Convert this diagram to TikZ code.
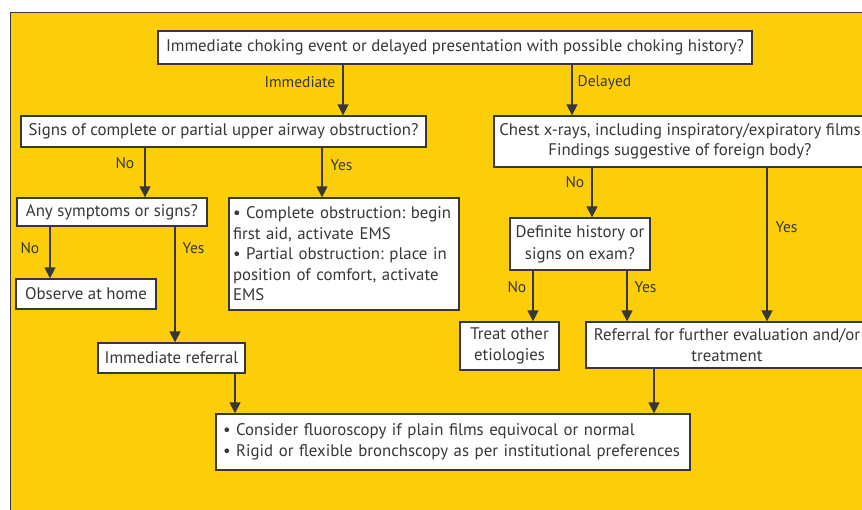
\documentclass[tikz,border=0pt]{standalone}
\usepackage{fontspec}
\setmainfont{PT Sans}
\frenchspacing
\usetikzlibrary{arrows.meta}
\definecolor{fondo}{RGB}{252,206,10}
\definecolor{tinta}{RGB}{55,55,55}

\begin{document}
\begin{tikzpicture}[x=1pt,y=-1pt,
  caja/.style={draw=tinta, fill=white, line width=1.3pt, text=tinta, inner sep=0pt,
    font=\fontsize{16.8}{20.5}\selectfont},
  flecha/.style={draw=tinta, line width=1.4pt, -{Triangle[length=11pt,width=11pt]}},
  etiq/.style={text=tinta, inner sep=0pt, font=\fontsize{15.5}{17}\selectfont}]
% Fondo
\clip (0,0) rectangle (862,509);
\fill[fondo] (10,12) rectangle (870,515);
\draw[tinta, line width=1pt] (10,515) -- (10,12) -- (870,12);

% Pregunta inicial
\node[caja, minimum width=594, minimum height=33] (evento) at (455,47.5)
  {Immediate choking event or delayed presentation with possible choking history?};

% Rama inmediata
\node[caja, minimum width=405, minimum height=31] (signos) at (223.5,131.5)
  {Signs of complete or partial upper airway obstruction?};
\node[caja, minimum width=190, minimum height=28] (sintomas) at (112,212)
  {Any symptoms or signs?};
\node[caja, minimum width=230, minimum height=112, text width=222, align=left] (obstruccion) at (344,254)
  {• Complete obstruction: begin\\first aid, activate EMS\\• Partial obstruction: place in\\position of comfort, activate\\EMS};
\node[caja, minimum width=140, minimum height=30] (casa) at (86,294) {Observe at home};
\node[caja, minimum width=147, minimum height=30] (inmediata) at (171.5,358) {Immediate referral};

% Rama tardia
\node[caja, minimum width=372, minimum height=51, align=center] (rx) at (680,141.5)
  {Chest x-rays, including inspiratory/expiratory films\\Findings suggestive of foreign body?};
\node[caja, minimum width=140, minimum height=52, align=center, font=\fontsize{16.8}{22}\selectfont] (historia) at (580,244)
  {Definite history or\\signs on exam?};
\node[caja, minimum width=99, minimum height=48, align=center] (otras) at (509.5,346)
  {Treat other\\etiologies};
\node[caja, minimum width=282, minimum height=46, align=center] (referir) at (727,345)
  {Referral for further evaluation and/or\\treatment};

% Conducta final
\node[caja, minimum width=474, minimum height=56, text width=460, align=left] (final) at (453,442)
  {• Consider fluoroscopy if plain films equivocal or normal\\• Rigid or flexible bronchscopy as per institutional preferences};

% Flechas
\draw[flecha] (343,0 |- evento.south) -- (343,0 |- signos.north)
  node[etiq, pos=0.35, left=7pt] {Immediate};
\draw[flecha] (572,0 |- evento.south) -- (572,0 |- rx.north)
  node[etiq, pos=0.35, right=5pt] {Delayed};
\draw[flecha] (145,0 |- signos.south) -- (145,0 |- sintomas.north)
  node[etiq, pos=0.31, left=10pt] {No};
\draw[flecha] (322,0 |- signos.south) -- (322,0 |- obstruccion.north)
  node[etiq, pos=0.35, right=8pt] {Yes};
\draw[flecha] (50,0 |- sintomas.south) -- (50,0 |- casa.north)
  node[etiq, pos=0.42, left=10pt] {No};
\draw[flecha] (175,0 |- sintomas.south) -- (175,0 |- inmediata.north)
  node[etiq, pos=0.19, right=7pt] {Yes};
\draw[flecha] (592,0 |- rx.south) -- (592,0 |- historia.north)
  node[etiq, pos=0.29, left=7pt] {No};
\draw[flecha] (767,0 |- rx.south) -- (767,0 |- referir.north)
  node[etiq, pos=0.39, right=8pt] {Yes};
\draw[flecha] (533,0 |- historia.south) -- (533,0 |- otras.north)
  node[etiq, pos=0.33, left=6pt] {No};
\draw[flecha] (627,0 |- historia.south) -- (627,0 |- referir.north)
  node[etiq, pos=0.33, right=7pt] {Yes};
\draw[flecha] (235,0 |- inmediata.south) -- (235,0 |- final.north);
\draw[flecha] (654,0 |- referir.south) -- (654,0 |- final.north);
\end{tikzpicture}
\end{document}
